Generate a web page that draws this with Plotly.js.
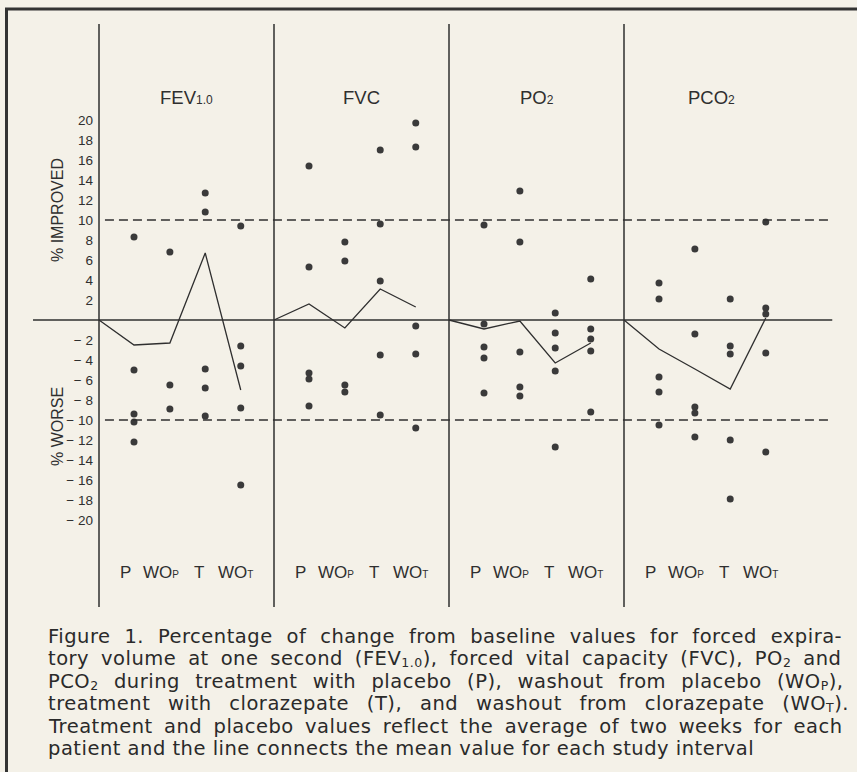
<!DOCTYPE html>
<html>
<head>
<meta charset="utf-8">
<script src="https://cdn.plot.ly/plotly-3.0.1.min.js"></script>
<style>html,body{margin:0;padding:0;background:#f4f1e8;}#chart{width:857px;height:772px;}</style>
</head>
<body>
<div id="chart"></div>
<script>
// ---- data (percent change from baseline) ----
const categories = ['P', 'WOp', 'T', 'WOt'];
const categoryLabels = ['P', 'WO<span style="font-size:10px">P</span>', 'T', 'WO<span style="font-size:10px">T</span>'];
const panelTitles = ['FEV<span style="font-size:12px">1.0</span>', 'FVC', 'PO<span style="font-size:12px">2</span>', 'PCO<span style="font-size:12px">2</span>'];

const fevP   = [8.3, -5.0, -9.4, -10.2, -12.2];
const fevWOp = [6.8, -6.5, -8.9];
const fevT   = [12.7, 10.8, -4.9, -6.8, -9.6];
const fevWOt = [9.4, -2.6, -4.6, -8.8, -16.5];
const fevMean = [-2.5, -2.3, 6.7, -7.0];

const fvcP   = [15.4, 5.3, -5.3, -5.9, -8.6];
const fvcWOp = [7.8, 5.9, -6.5, -7.2];
const fvcT   = [17.0, 9.6, 3.9, -3.5, -9.5];
const fvcWOt = [19.7, 17.3, -0.6, -3.4, -10.8];
const fvcMean = [1.6, -0.8, 3.1, 1.3];

const po2P   = [9.5, -0.4, -2.7, -3.8, -7.3];
const po2WOp = [12.9, 7.8, -3.2, -6.7, -7.6];
const po2T   = [0.7, -1.3, -2.8, -5.1, -12.7];
const po2WOt = [4.1, -0.9, -1.9, -3.1, -9.2];
const po2Mean = [-0.9, -0.1, -4.3, -2.3];

const pco2P   = [3.7, 2.1, -5.7, -7.2, -10.5];
const pco2WOp = [7.1, -1.4, -8.7, -9.3, -11.7];
const pco2T   = [2.1, -2.6, -3.4, -12.0, -17.9];
const pco2WOt = [9.8, 1.2, 0.6, -3.3, -13.2];
const pco2Mean = [-2.9, -4.9, -6.9, 0.2];

const tickVals = [20,18,16,14,12,10,8,6,4,2,-2,-4,-6,-8,-10,-12,-14,-16,-18,-20];
const tickText = ['20','18','16','14','12','10','8','6','4','2',
  '\u2212 2','\u2212 4','\u2212 6','\u2212 8','\u2212 10','\u2212 12','\u2212 14','\u2212 16','\u2212 18','\u2212 20'];

const SUB = s => '<span style="font-size:12.5px;baseline-shift:-1.5px">' + s + '</span>';
const captionLines = [
  'Figure 1. Percentage of change from baseline values for forced expira-',
  'tory volume at one second (FEV' + SUB('1.0') + '), forced vital capacity (FVC), PO' + SUB('2') + ' and',
  'PCO' + SUB('2') + ' during treatment with placebo (P), washout from placebo (WO' + SUB('P') + '),',
  'treatment with clorazepate (T), and washout from clorazepate (WO' + SUB('T') + ').',
  'Treatment and placebo values reflect the average of two weeks for each',
  'patient and the line connects the mean value for each study interval'
];
// extra word spacing (px) that justifies each caption line as in the print
const captionWordSpacing = [7.2, 5.2, 8.6, 11.1, 4.6, 0];

const panels = [
  {dots: [fevP, fevWOp, fevT, fevWOt], mean: fevMean},
  {dots: [fvcP, fvcWOp, fvcT, fvcWOt], mean: fvcMean},
  {dots: [po2P, po2WOp, po2T, po2WOt], mean: po2Mean},
  {dots: [pco2P, pco2WOp, pco2T, pco2WOt], mean: pco2Mean}
];

// ---- layout geometry (panel k spans x = k..k+1) ----
const W = 857, H = 772;
const catPos = [0.2, 0.405, 0.607, 0.81];
const labelPos = [0.153, 0.355, 0.571, 0.78];
const ink = '#2f2f2f';
const FONT = '"Liberation Sans", Arial, Helvetica, sans-serif';
const CAPFONT = '"DejaVu Sans", "Liberation Sans", sans-serif';

const traces = [];
panels.forEach((p, k) => {
  const xs = [], ys = [];
  p.dots.forEach((vals, c) => vals.forEach(v => { xs.push(k + catPos[c]); ys.push(v); }));
  traces.push({type: 'scatter', mode: 'markers', x: xs, y: ys, showlegend: false,
    marker: {size: 7, color: '#3a3a3a'}, hoverinfo: 'y', cliponaxis: false});
  traces.push({type: 'scatter', mode: 'lines', showlegend: false,
    x: [k].concat(catPos.map(c => k + c)), y: [0].concat(p.mean),
    line: {color: ink, width: 1.3}, hoverinfo: 'skip'});
});

const yTop = 29.6, yBot = -28.7;
const shapes = [];
for (let k = 0; k < 4; k++) {
  shapes.push({type: 'line', xref: 'x', yref: 'y', x0: k, x1: k, y0: yBot, y1: yTop, line: {color: ink, width: 1.5}});
}
shapes.push({type: 'line', xref: 'x', yref: 'y', x0: -0.377, x1: 4.19, y0: 0, y1: 0, line: {color: ink, width: 1.5}});
[10, -10].forEach(v => shapes.push({type: 'line', xref: 'x', yref: 'y', x0: 0.034, x1: 4.19, y0: v, y1: v,
  line: {color: ink, width: 1.6, dash: '9px,5px'}}));
// frame
shapes.push({type: 'line', xref: 'paper', yref: 'paper', x0: 5 / W, x1: 1, y0: 1 - 9 / H, y1: 1 - 9 / H, line: {color: '#333', width: 3}});
shapes.push({type: 'line', xref: 'paper', yref: 'paper', x0: 6.5 / W, x1: 6.5 / W, y0: 0, y1: 1 - 9 / H, line: {color: '#333', width: 3}});

const annotations = [];
panelTitles.forEach((t, k) => annotations.push({xref: 'x', yref: 'y', x: k + 0.5, y: 22.3, text: t, showarrow: false,
  xanchor: 'center', yanchor: 'middle', font: {family: FONT, size: 18.5, color: ink}}));
for (let k = 0; k < 4; k++) {
  categoryLabels.forEach((t, c) => annotations.push({xref: 'x', yref: 'y', x: k + labelPos[c], y: -25.2, text: t,
    showarrow: false, xanchor: 'center', yanchor: 'middle', font: {family: FONT, size: 17, color: ink}}));
}
annotations.push({xref: 'paper', yref: 'paper', x: 57 / W, y: 1 - 210 / H, text: '% IMPROVED', textangle: -90,
  showarrow: false, xanchor: 'center', yanchor: 'middle', font: {family: FONT, size: 16, color: ink}});
annotations.push({xref: 'paper', yref: 'paper', x: 57 / W, y: 1 - 427 / H, text: '% WORSE', textangle: -90,
  showarrow: false, xanchor: 'center', yanchor: 'middle', font: {family: FONT, size: 16, color: ink}});
const capCenters = [636, 658.3, 681.2, 703.5, 726, 748.5];
captionLines.forEach((t, i) => annotations.push({xref: 'paper', yref: 'paper', x: 46 / W, y: 1 - capCenters[i] / H,
  xanchor: 'left', yanchor: 'middle',
  text: '<span style="letter-spacing:0.5px;word-spacing:' + captionWordSpacing[i] + 'px">' + t + '</span>',
  showarrow: false, font: {family: CAPFONT, size: 19.5, color: '#2a2a2a'}}));

const layout = {
  width: W, height: H,
  margin: {l: 0, r: 0, t: 0, b: 0, pad: 0},
  paper_bgcolor: '#f4f1e8', plot_bgcolor: '#f4f1e8',
  showlegend: false,
  xaxis: {range: [-99 / 175, (W - 99) / 175], visible: false, fixedrange: true},
  yaxis: {range: [(320 - H) / 10, 320 / 10], anchor: 'free', position: 99 / W, side: 'left',
    showgrid: false, zeroline: false, showline: false, ticks: '',
    tickmode: 'array', tickvals: tickVals, ticktext: tickText, ticklabelstandoff: 6,
    tickfont: {family: FONT, size: 13.5, color: ink}, fixedrange: true},
  shapes: shapes,
  annotations: annotations
};

Plotly.newPlot('chart', traces, layout, {displayModeBar: false, staticPlot: true});
</script>
</body>
</html>
